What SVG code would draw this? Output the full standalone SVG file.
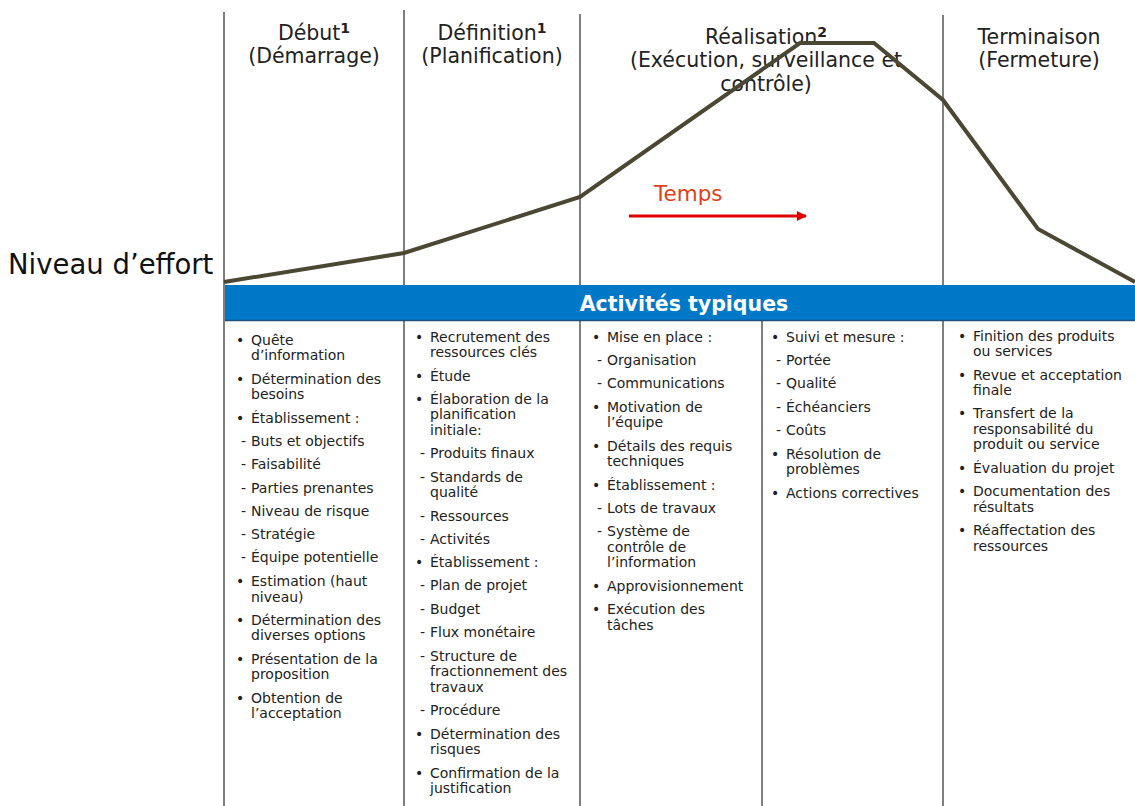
<svg xmlns="http://www.w3.org/2000/svg" width="1135" height="806" viewBox="0 0 1135 806">
  <style>
    .hd { font-family: "DejaVu Sans", Verdana, sans-serif; font-size: 20.5px; fill: #222; text-anchor: middle; }
    .sup { font-size: 14px; font-weight: bold; }
    .it { font-family: "DejaVu Sans", Verdana, sans-serif; font-size: 14px; fill: #222; }
    .sep { stroke: #555; stroke-width: 1.5; fill: none; }
    .band { font-family: "DejaVu Sans", Verdana, sans-serif; font-size: 20.5px; font-weight: bold; fill: #fff; text-anchor: middle; }
  </style>
  <defs>
    <marker id="arrowRed" markerWidth="10" markerHeight="10" refX="9" refY="5" orient="auto" markerUnits="userSpaceOnUse" viewBox="0 0 10 10">
      <path d="M0,0 L10,5 L0,10 Z" fill="#e00000"/>
    </marker>
  </defs>
  <rect width="1135" height="806" fill="#fff"/>

  <!-- phase separators -->
  <g id="separators">
    <line class="sep" x1="224" y1="12" x2="224" y2="806"/>
    <line class="sep" x1="404" y1="10" x2="404" y2="806"/>
    <line class="sep" x1="580" y1="14" x2="580" y2="806"/>
    <line class="sep" x1="762" y1="320" x2="762" y2="806"/>
    <line class="sep" x1="943" y1="15" x2="943" y2="806"/>
  </g>

  <!-- phase headers -->
  <g id="phase-debut">
    <text class="hd" x="314" y="40">Début<tspan class="sup" dy="-7">1</tspan></text>
    <text class="hd" x="314" y="63">(Démarrage)</text>
  </g>
  <g id="phase-definition">
    <text class="hd" x="492" y="40">Définition<tspan class="sup" dy="-7">1</tspan></text>
    <text class="hd" x="492" y="63">(Planification)</text>
  </g>
  <g id="phase-realisation">
    <text class="hd" x="766" y="44">Réalisation<tspan class="sup" dy="-7">2</tspan></text>
    <text class="hd" x="766" y="67">(Exécution, surveillance et</text>
    <text class="hd" x="766" y="91">contrôle)</text>
  </g>
  <g id="phase-terminaison">
    <text class="hd" x="1039" y="44">Terminaison</text>
    <text class="hd" x="1039" y="67">(Fermeture)</text>
  </g>

  <!-- axis label -->
  <g id="effort-label">
    <text x="8" y="274" font-family="DejaVu Sans, Verdana, sans-serif" font-size="27.5" fill="#111">Niveau d’effort</text>
  </g>

  <!-- connectors: effort curve and time arrow -->
  <g id="connectors">
    <polyline points="224,282 404,253 580,197 800,43 874,43 943,100 1038,229 1135,282" fill="none" stroke="#4a4733" stroke-width="4" stroke-linejoin="miter"/>
    <line x1="629" y1="216" x2="806" y2="216" stroke="#e00000" stroke-width="3" marker-end="url(#arrowRed)"/>
  </g>
  <g id="time-label">
    <text x="654" y="201" font-family="DejaVu Sans, Verdana, sans-serif" font-size="21.5" fill="#e0401a">Temps</text>
  </g>

  <!-- activities band -->
  <g id="band">
    <rect x="225" y="285" width="910" height="36" fill="#0078c8"/>
    <line x1="225" y1="320.5" x2="1135" y2="320.5" stroke="#1f4e79" stroke-width="1.5"/>
    <text class="band" x="684" y="311">Activités typiques</text>
  </g>

  <!-- column 1 -->
  <g id="col-debut" class="it">
    <text x="236" y="345">•</text><text x="251" y="345">Quête</text><text x="251" y="360">d’information</text>
    <text x="236" y="384">•</text><text x="251" y="384">Détermination des</text><text x="251" y="399">besoins</text>
    <text x="236" y="423">•</text><text x="251" y="423">Établissement :</text>
    <text x="241" y="446">-</text><text x="251" y="446">Buts et objectifs</text>
    <text x="241" y="469">-</text><text x="251" y="469">Faisabilité</text>
    <text x="241" y="493">-</text><text x="251" y="493">Parties prenantes</text>
    <text x="241" y="516">-</text><text x="251" y="516">Niveau de risque</text>
    <text x="241" y="539">-</text><text x="251" y="539">Stratégie</text>
    <text x="241" y="562">-</text><text x="251" y="562">Équipe potentielle</text>
    <text x="236" y="586">•</text><text x="251" y="586">Estimation (haut</text><text x="251" y="602">niveau)</text>
    <text x="236" y="625">•</text><text x="251" y="625">Détermination des</text><text x="251" y="640">diverses options</text>
    <text x="236" y="664">•</text><text x="251" y="664">Présentation de la</text><text x="251" y="679">proposition</text>
    <text x="236" y="703">•</text><text x="251" y="703">Obtention de</text><text x="251" y="718">l’acceptation</text>
  </g>

  <!-- column 2 -->
  <g id="col-definition" class="it">
    <text x="415" y="342">•</text><text x="430" y="342">Recrutement des</text><text x="430" y="357">ressources clés</text>
    <text x="415" y="381">•</text><text x="430" y="381">Étude</text>
    <text x="415" y="404">•</text><text x="430" y="404">Élaboration de la</text><text x="430" y="419">planification</text><text x="430" y="435">initiale:</text>
    <text x="420" y="458">-</text><text x="430" y="458">Produits finaux</text>
    <text x="420" y="482">-</text><text x="430" y="482">Standards de</text><text x="430" y="497">qualité</text>
    <text x="420" y="521">-</text><text x="430" y="521">Ressources</text>
    <text x="420" y="544">-</text><text x="430" y="544">Activités</text>
    <text x="415" y="567">•</text><text x="430" y="567">Établissement :</text>
    <text x="420" y="590">-</text><text x="430" y="590">Plan de projet</text>
    <text x="420" y="614">-</text><text x="430" y="614">Budget</text>
    <text x="420" y="637">-</text><text x="430" y="637">Flux monétaire</text>
    <text x="420" y="661">-</text><text x="430" y="661">Structure de</text><text x="430" y="676">fractionnement des</text><text x="430" y="692">travaux</text>
    <text x="420" y="715">-</text><text x="430" y="715">Procédure</text>
    <text x="415" y="739">•</text><text x="430" y="739">Détermination des</text><text x="430" y="754">risques</text>
    <text x="415" y="778">•</text><text x="430" y="778">Confirmation de la</text><text x="430" y="793">justification</text>
  </g>

  <!-- column 3 -->
  <g id="col-realisation-a" class="it">
    <text x="592" y="342">•</text><text x="607" y="342">Mise en place :</text>
    <text x="597" y="365">-</text><text x="607" y="365">Organisation</text>
    <text x="597" y="388">-</text><text x="607" y="388">Communications</text>
    <text x="592" y="412">•</text><text x="607" y="412">Motivation de</text><text x="607" y="427">l’équipe</text>
    <text x="592" y="451">•</text><text x="607" y="451">Détails des requis</text><text x="607" y="466">techniques</text>
    <text x="592" y="490">•</text><text x="607" y="490">Établissement :</text>
    <text x="597" y="513">-</text><text x="607" y="513">Lots de travaux</text>
    <text x="597" y="536">-</text><text x="607" y="536">Système de</text><text x="607" y="552">contrôle de</text><text x="607" y="567">l’information</text>
    <text x="592" y="591">•</text><text x="607" y="591">Approvisionnement</text>
    <text x="592" y="614">•</text><text x="607" y="614">Exécution des</text><text x="607" y="630">tâches</text>
  </g>

  <!-- column 4 -->
  <g id="col-realisation-b" class="it">
    <text x="771" y="342">•</text><text x="786" y="342">Suivi et mesure :</text>
    <text x="776" y="365">-</text><text x="786" y="365">Portée</text>
    <text x="776" y="388">-</text><text x="786" y="388">Qualité</text>
    <text x="776" y="412">-</text><text x="786" y="412">Échéanciers</text>
    <text x="776" y="435">-</text><text x="786" y="435">Coûts</text>
    <text x="771" y="459">•</text><text x="786" y="459">Résolution de</text><text x="786" y="474">problèmes</text>
    <text x="771" y="498">•</text><text x="786" y="498">Actions correctives</text>
  </g>

  <!-- column 5 -->
  <g id="col-terminaison" class="it">
    <text x="958" y="341">•</text><text x="973" y="341">Finition des produits</text><text x="973" y="356">ou services</text>
    <text x="958" y="380">•</text><text x="973" y="380">Revue et acceptation</text><text x="973" y="395">finale</text>
    <text x="958" y="418">•</text><text x="973" y="418">Transfert de la</text><text x="973" y="434">responsabilité du</text><text x="973" y="449">produit ou service</text>
    <text x="958" y="473">•</text><text x="973" y="473">Évaluation du projet</text>
    <text x="958" y="496">•</text><text x="973" y="496">Documentation des</text><text x="973" y="512">résultats</text>
    <text x="958" y="535">•</text><text x="973" y="535">Réaffectation des</text><text x="973" y="551">ressources</text>
  </g>
</svg>
